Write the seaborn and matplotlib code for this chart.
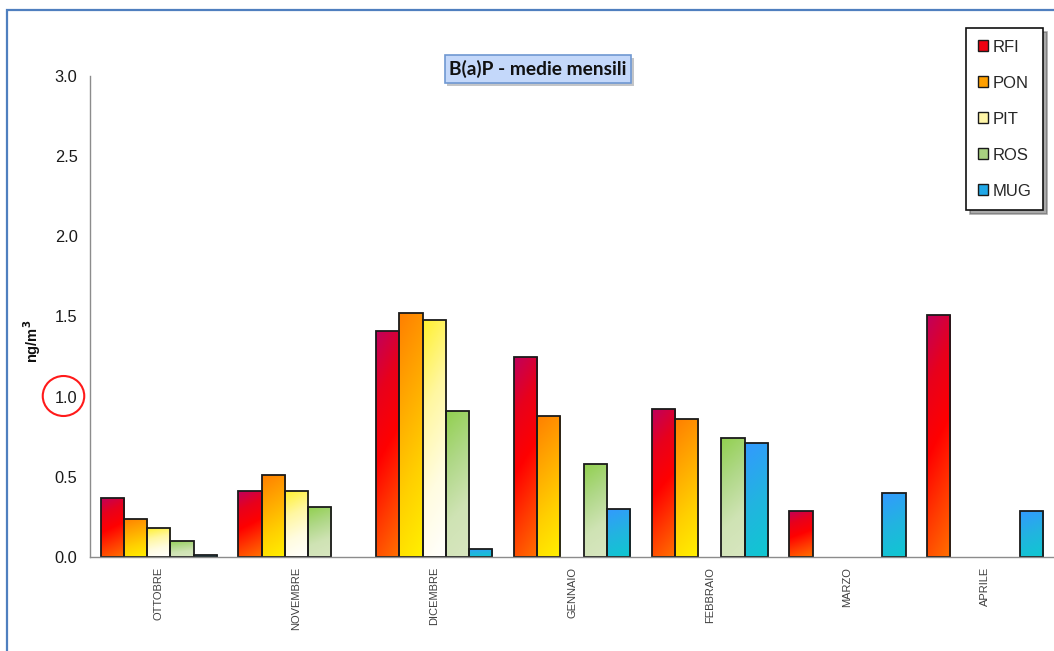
import numpy as np
import pandas as pd
import seaborn as sns
import matplotlib
matplotlib.use("Agg")
import matplotlib.pyplot as plt
from matplotlib.colors import LinearSegmentedColormap
from matplotlib.patches import Patch, Ellipse, Rectangle
import matplotlib.patheffects as pe

# ---------------- data ----------------
months = ["OTTOBRE", "NOVEMBRE", "DICEMBRE", "GENNAIO", "FEBBRAIO", "MARZO", "APRILE"]
stations = ["RFI", "PON", "PIT", "ROS", "MUG"]
RFI = [0.37, 0.41, 1.41, 1.25, 0.92, 0.29, 1.51]
PON = [0.24, 0.51, 1.52, 0.88, 0.86, np.nan, np.nan]
PIT = [0.18, 0.41, 1.48, np.nan, np.nan, np.nan, np.nan]
ROS = [0.10, 0.31, 0.91, 0.58, 0.74, np.nan, np.nan]
MUG = [0.012, np.nan, 0.05, 0.30, 0.71, 0.40, 0.29]
yticks = [0.0, 0.5, 1.0, 1.5, 2.0, 2.5, 3.0]
title_text = "B(a)P - medie mensili"
ylabel_text = "ng/m$\\mathbf{^3}$"

series = {"RFI": RFI, "PON": PON, "PIT": PIT, "ROS": ROS, "MUG": MUG}
rows = []
for s in stations:
    for m, v in zip(months, series[s]):
        if not np.isnan(v):
            rows.append({"mese": m, "stazione": s, "valore": v})
df = pd.DataFrame(rows)

# gradient stops (top -> bottom)
grad = {
    "RFI": ["#c0005c", "#e8001c", "#ff0000", "#ff3a00", "#ff7000"],
    "PON": ["#ff8000", "#ffa800", "#ffd000", "#fff000"],
    "PIT": ["#fff030", "#fff7a0", "#fffce0", "#ffffff"],
    "ROS": ["#92d050", "#b0d888", "#cfe3b4", "#d8e6c0"],
    "MUG": ["#3399ff", "#22b4e0", "#0fc8d0"],
}
legend_cols = {"RFI": "#ee0010", "PON": "#ffa000", "PIT": "#fff6a8",
               "ROS": "#a8d080", "MUG": "#20a8e8"}

W, H = 1054, 651
fig = plt.figure(figsize=(W / 100, H / 100), dpi=100)
sns.set_style("white")
plt.rcParams["font.family"] = ["Liberation Sans", "DejaVu Sans"]

ax = fig.add_axes([90 / W, (H - 557) / H, (W - 90) / W, (557 - 76) / H])
sns.barplot(data=df, x="mese", y="valore", hue="stazione", order=months,
            hue_order=stations, palette=legend_cols, width=0.845,
            edgecolor="#1a1a1a", linewidth=1.3, saturation=1,
            errorbar=None, legend=False, ax=ax)

ax.set_xlim(-0.5, len(months) - 0.5)
ax.set_ylim(0, 3.0)

# gradient fills
Ng = 128
for cont, s in zip(ax.containers, stations):
    cmap = LinearSegmentedColormap.from_list(s, grad[s])
    for bar in cont:
        h = bar.get_height()
        if not np.isfinite(h) or h <= 0:
            continue
        x0 = bar.get_x(); w = bar.get_width()
        v = np.linspace(0, 1, Ng)[:, None]   # top->bottom
        u = np.linspace(0, 1, 16)[None, :]
        t = np.clip(0.85 * v + 0.15 * u, 0, 1)
        img = cmap(t)
        im = ax.imshow(img, extent=[x0, x0 + w, 0, h], origin="upper",
                       aspect="auto", zorder=bar.get_zorder() - 0.1,
                       interpolation="bilinear")
        im.set_clip_path(bar)
        bar.set_facecolor("none")
        bar.set_zorder(bar.get_zorder() + 0.2)

ax.set_xlim(-0.5, len(months) - 0.5)
ax.set_ylim(0, 3.0)
ax.set_aspect("auto")

# axes styling
for sp in ["top", "right"]:
    ax.spines[sp].set_visible(False)
for sp in ["left", "bottom"]:
    ax.spines[sp].set_color("#8c8c8c")
    ax.spines[sp].set_linewidth(1.0)

ax.set_yticks(yticks)
ax.set_yticklabels([f"{v:.1f}" for v in yticks], fontsize=11.8, color="#1a1a1a")
ax.tick_params(axis="y", direction="out", length=4, width=1, color="#8c8c8c", pad=5)

ax.set_xticks(range(len(months)))
ax.set_xticklabels(months, rotation=90, fontsize=8, color="#404040")
ax.tick_params(axis="x", which="major", length=0, pad=7)
ax.set_xticks(np.arange(-0.5, len(months) - 0.4, 1.0), minor=True)
ax.tick_params(axis="x", which="minor", direction="inout", length=8, width=1, color="#8c8c8c")
for lab in ax.get_xticklabels():
    lab.set_verticalalignment("top")
ax.set_xlabel("")
ax.set_ylabel("")
ax.grid(False)

# y label
fig.text(32 / W, 1 - 341 / H, ylabel_text, rotation=90, fontsize=10.5, fontweight="bold",
         ha="center", va="center", color="#111111")

# title box
t = fig.text(538 / W, 1 - 69 / H, title_text, fontsize=13.8, fontweight="bold",
             family=["Lato", "DejaVu Sans"], ha="center", va="center", color="#111111",
             bbox=dict(boxstyle="square,pad=0.25", fc="#c4d8fa", ec="#6f98d2", lw=1.2))
t.get_bbox_patch().set_path_effects([pe.SimplePatchShadow(offset=(2, -2), alpha=0.3),
                                     pe.Normal()])

# legend
handles = [Patch(facecolor=legend_cols[s], edgecolor="#1a1a1a", lw=1.0, label=s)
           for s in stations]
leg = ax.legend(handles=handles, loc="upper right",
                bbox_to_anchor=(1043 / W, 1 - 28 / H), bbox_transform=fig.transFigure,
                borderaxespad=0, fontsize=12, frameon=True, fancybox=False,
                shadow={"ox": 3, "oy": -3, "color": "#555555", "alpha": 0.5},
                handlelength=0.62, handleheight=0.62, handletextpad=0.25,
                labelspacing=1.26, borderpad=0.7)
leg.get_frame().set_edgecolor("#111111")
leg.get_frame().set_linewidth(1.2)

# red circle around 1.0
fig.add_artist(Ellipse((63.5 / W, 1 - 396 / H), 41.5 / W, 40 / H,
                       transform=fig.transFigure, fill=False, ec="#ff1a1a", lw=1.5))

# outer border (blue)
fig.add_artist(Rectangle((7 / W, -0.1), 1.2, (H - 10) / H + 0.1,
                         transform=fig.transFigure, fill=False, ec="#4f7fbf", lw=1.6))

fig.savefig("out.png", dpi=100)
